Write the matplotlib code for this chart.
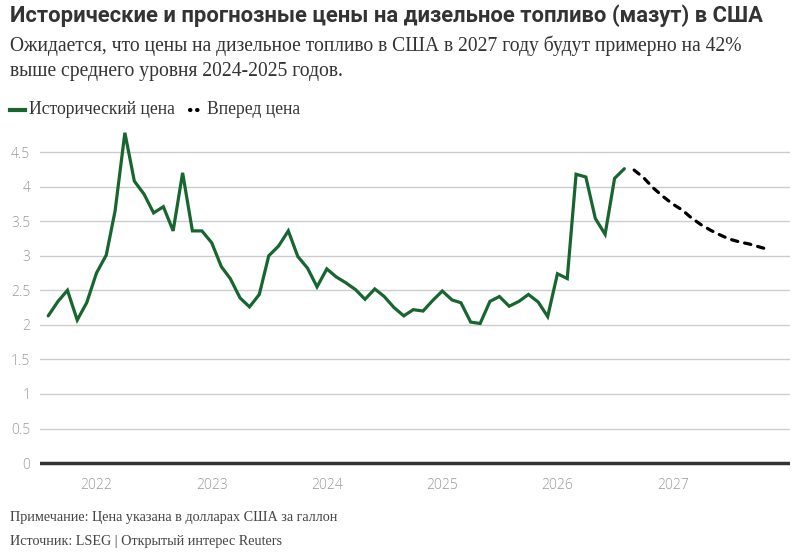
import pandas as pd
import matplotlib
matplotlib.use("Agg")
from matplotlib import pyplot as plt
from matplotlib.lines import Line2D

# monthly historical price, USD per gallon
hist_values = [2.13, 2.34, 2.50, 2.07, 2.32, 2.75, 3.01, 3.65, 4.78, 4.08,
               3.89, 3.62, 3.71, 3.36, 4.20, 3.36, 3.36, 3.19, 2.84, 2.67,
               2.39, 2.26, 2.44, 3.00, 3.14, 3.36, 2.99, 2.82, 2.55, 2.81,
               2.69, 2.61, 2.51, 2.37, 2.52, 2.41, 2.25, 2.13, 2.22, 2.20,
               2.35, 2.49, 2.36, 2.32, 2.04, 2.02, 2.34, 2.41, 2.27, 2.34,
               2.44, 2.33, 2.12, 2.74, 2.67, 4.18, 4.14, 3.54, 3.31, 4.12,
               4.26]
fwd_values = [4.24, 4.13, 3.98, 3.86, 3.75, 3.66, 3.55, 3.45, 3.37, 3.30,
              3.24, 3.20, 3.17, 3.13, 3.09]

hist_dates = pd.date_range("2021-08-01", periods=len(hist_values), freq="MS")
fwd_dates = pd.date_range(hist_dates[-1] + pd.DateOffset(months=1),
                          periods=len(fwd_values), freq="MS")

year_ticks = [pd.Timestamp(f"{y}-01-01") for y in range(2022, 2028)]
year_labels = [str(y) for y in range(2022, 2028)]
y_ticks = [0, 0.5, 1, 1.5, 2, 2.5, 3, 3.5, 4, 4.5]
y_labels = ["0", "0.5", "1", "1.5", "2", "2.5", "3", "3.5", "4", "4.5"]

title = "Исторические и прогнозные цены на дизельное топливо (мазут) в США"
subtitle = ("Ожидается, что цены на дизельное топливо в США в 2027 году будут примерно на 42%\n"
            "выше среднего уровня 2024-2025 годов.")
legend_hist = "Исторический цена"
legend_fwd = "Вперед цена"
note = "Примечание: Цена указана в долларах США за галлон"
source = "Источник: LSEG | Открытый интерес Reuters"

green = "#17662f"
grey_text = "#9a9a9a"

fig = plt.figure(figsize=(8.11, 5.53), dpi=100)
ax = fig.add_axes([40 / 811, 0.1564, 750 / 811, 0.6185])

ax.plot(hist_dates, hist_values, color=green, lw=2.3, solid_joinstyle="miter",
        solid_capstyle="round")
ax.plot(fwd_dates, fwd_values, color="black", lw=2.3, linestyle=(0, (2.0, 2.2)),
        dash_capstyle="round")

ax.set_xlim(pd.Timestamp("2021-07-06"), pd.Timestamp("2028-01-08"))
ax.set_ylim(-0.05, 4.9)

ax.set_yticks(y_ticks)
ax.set_yticklabels(y_labels)
ax.set_xticks(year_ticks)
ax.set_xticklabels(year_labels)
ax.tick_params(axis="both", length=0, labelcolor=grey_text, labelsize=10)
ax.tick_params(axis="y", pad=7)
ax.tick_params(axis="x", pad=8)
for lbl in ax.get_yticklabels() + ax.get_xticklabels():
    lbl.set_family("Open Sans")
    lbl.set_fontweight("light")

ax.grid(axis="y", color="#cccccc", lw=1)
ax.set_axisbelow(True)
for s in ax.spines.values():
    s.set_visible(False)
ax.axhline(0, color="#333333", lw=2.5, zorder=1)

fig.text(10 / 811, 1 - 16 / 553, title, fontsize=15.8, fontweight="bold",
         family="Roboto", color="#333333", va="center", ha="left")
fig.text(10 / 811, 1 - 36 / 553, subtitle, fontsize=14.1, family="Liberation Serif",
         color="#333333", va="top", ha="left", linespacing=1.4)

# legend drawn by hand
fig.add_artist(Line2D([10 / 811, 25 / 811], [1 - 110 / 553] * 2, color=green, lw=3,
                      transform=fig.transFigure))
fig.text(29 / 811, 1 - 110 / 553, legend_hist, fontsize=12.7, family="Liberation Serif",
         color="#333333", va="center", ha="left")
fig.add_artist(Line2D([190 / 811, 199 / 811], [1 - 110 / 553] * 2, color="black", lw=3,
                      linestyle=(0, (0.1, 1.6)), dash_capstyle="round",
                      transform=fig.transFigure))
fig.text(207 / 811, 1 - 110 / 553, legend_fwd, fontsize=12.7, family="Liberation Serif",
         color="#333333", va="center", ha="left")

fig.text(10 / 811, 1 - 518 / 553, note, fontsize=10.2, family="Liberation Serif",
         color="#444444", va="center", ha="left")
fig.text(10 / 811, 1 - 541 / 553, source, fontsize=10.2, family="Liberation Serif",
         color="#444444", va="center", ha="left")

fig.savefig("out.png", dpi=100)
